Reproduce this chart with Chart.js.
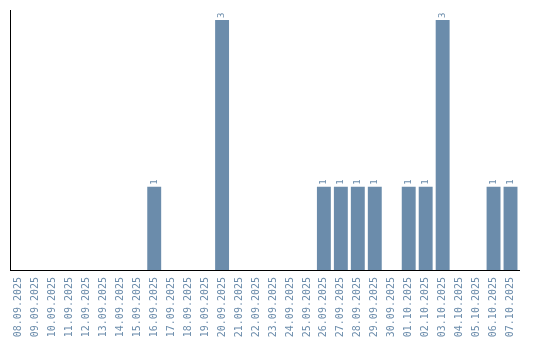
<!DOCTYPE html>
<html>
<head>
<meta charset="utf-8">
<script src="https://cdn.jsdelivr.net/npm/chart.js@4/dist/chart.umd.min.js"></script>
<style>
  html, body { margin: 0; padding: 0; background: #fff; }
  #wrap { width: 540px; height: 340px; }
</style>
</head>
<body>
<div id="wrap"><canvas id="dayChart"></canvas></div>
<script>
const days = [
    '08.09.2025', '09.09.2025', '10.09.2025', '11.09.2025', '12.09.2025',
    '13.09.2025', '14.09.2025', '15.09.2025', '16.09.2025', '17.09.2025',
    '18.09.2025', '19.09.2025', '20.09.2025', '21.09.2025', '22.09.2025',
    '23.09.2025', '24.09.2025', '25.09.2025', '26.09.2025', '27.09.2025',
    '28.09.2025', '29.09.2025', '30.09.2025', '01.10.2025', '02.10.2025',
    '03.10.2025', '04.10.2025', '05.10.2025', '06.10.2025', '07.10.2025'
];
const counts = [
    0, 0, 0, 0, 0, 0, 0, 0, 1, 0,
    0, 0, 3, 0, 0, 0, 0, 0, 1, 1,
    1, 1, 0, 1, 1, 3, 0, 0, 1, 1
];

const barColor = '#6b8cab';

// draws the count above each bar, rotated like the tick labels
const valueLabels = {
    id: 'valueLabels',
    afterDatasetsDraw(chart) {
        const ctx = chart.ctx;
        const meta = chart.getDatasetMeta(0);
        ctx.save();
        ctx.fillStyle = barColor;
        ctx.font = '9px "DejaVu Sans Mono"';
        ctx.textAlign = 'left';
        ctx.textBaseline = 'middle';
        meta.data.forEach((bar, i) => {
            if (!counts[i]) return;
            ctx.save();
            ctx.translate(bar.x, bar.y - 2);
            ctx.rotate(-Math.PI / 2);
            ctx.fillText(String(counts[i]), 0, 0);
            ctx.restore();
        });
        ctx.restore();
    }
};

new Chart(document.getElementById('dayChart'), {
    type: 'bar',
    data: {
        labels: days,
        datasets: [{
            data: counts,
            backgroundColor: barColor,
            borderWidth: 0,
            barPercentage: 0.82,
            categoryPercentage: 1
        }]
    },
    options: {
        responsive: true,
        maintainAspectRatio: false,
        animation: false,
        layout: { padding: { left: 10, right: 21, top: 10, bottom: 0 } },
        plugins: {
            legend: { display: false },
            tooltip: { enabled: false }
        },
        scales: {
            x: {
                grid: { display: false, drawTicks: false },
                border: { color: '#000', width: 1 },
                afterFit: (scale) => { scale.height = 70; },
                ticks: {
                    color: barColor,
                    font: { family: '"DejaVu Sans Mono"', size: 10 },
                    minRotation: 90,
                    maxRotation: 90,
                    autoSkip: false,
                    padding: 7
                }
            },
            y: {
                min: 0,
                max: 3.12,
                grid: { display: false, drawTicks: false },
                border: { color: '#000', width: 1 },
                ticks: { display: false }
            }
        }
    },
    plugins: [valueLabels]
});
</script>
</body>
</html>
